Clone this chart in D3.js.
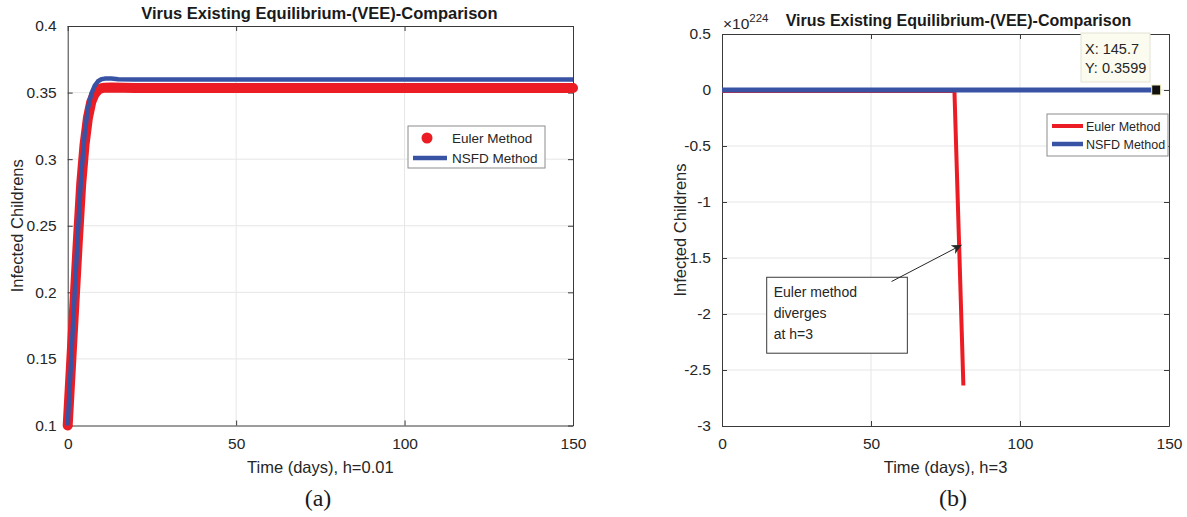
<!DOCTYPE html>
<html>
<head>
<meta charset="utf-8">
<script src="https://cdn.jsdelivr.net/npm/d3@7"></script>
<style>
  body { margin: 0; background: #fff; }
  svg { display: block; font-family: "Liberation Sans", Arial, Helvetica, sans-serif; }
</style>
</head>
<body>
<svg id="fig" width="1187" height="517"></svg>
<script>
// panel (a): h = 0.01
var eulerT = [0, 1, 2, 3, 4, 5, 6, 7, 8, 9, 10, 11, 13, 20, 150];
var eulerV = [0.1, 0.146, 0.192, 0.238, 0.281, 0.311, 0.331, 0.343, 0.349, 0.352, 0.3533, 0.3537, 0.3538, 0.3535, 0.3535];
var nsfdT = [0, 1, 2, 3, 4, 5, 6, 7, 8, 9, 10, 11, 12, 13, 15, 20, 150];
var nsfdV = [0.1, 0.148, 0.196, 0.243, 0.287, 0.318, 0.338, 0.349, 0.355, 0.3585, 0.36, 0.3605, 0.3606, 0.3605, 0.3601, 0.3599, 0.3599];

// panel (b): h = 3, values in units of 1e224
var euler3T = [0, 30, 60, 78, 81];
var euler3V = [0, 0, 0, 0, -2.63];
var nsfd3T = [0, 30, 60, 90, 120, 145.7];
var nsfd3V = [0, 0, 0, 0, 0, 0];
var tip = {x: 145.7, y: 0, label: ["X: 145.7", "Y: 0.3599"]};

var xTicks = [0, 50, 100, 150];
var yTicksA = [0.1, 0.15, 0.2, 0.25, 0.3, 0.35, 0.4];
var yTicksB = [0.5, 0, -0.5, -1, -1.5, -2, -2.5, -3];

var RED = "#ec1c24", BLUE = "#3953a4";
var title = "Virus Existing Equilibrium-(VEE)-Comparison";

var svg = d3.select("#fig");

function panel(o) {
  var x = d3.scaleLinear().domain([0, 150]).range([o.left, o.right]);
  var y = d3.scaleLinear().domain(o.ydom).range([o.bottom, o.top]);
  var g = svg.append("g");

  // grid
  g.selectAll("line.gx").data(xTicks.slice(1, -1)).enter().append("line")
    .attr("x1", x).attr("x2", x).attr("y1", o.top).attr("y2", o.bottom)
    .attr("stroke", "#e6e6e6");
  g.selectAll("line.gy").data(o.yticks.filter(function(d) { return d != o.ydom[0] && d != o.ydom[1]; }))
    .enter().append("line")
    .attr("x1", o.left).attr("x2", o.right).attr("y1", y).attr("y2", y)
    .attr("stroke", "#e6e6e6");

  // axes (box with inward ticks on all sides)
  var fmt = function(d) { return String(d); };
  g.append("g").attr("transform", "translate(0," + o.bottom + ")")
    .call(d3.axisBottom(x).tickValues(xTicks).tickSizeInner(-5).tickSizeOuter(0).tickPadding(12).tickFormat(fmt));
  g.append("g").attr("transform", "translate(0," + o.top + ")")
    .call(d3.axisTop(x).tickValues(xTicks).tickSizeInner(-5).tickSizeOuter(0).tickFormat(""));
  g.append("g").attr("transform", "translate(" + o.left + ",0)")
    .call(d3.axisLeft(y).tickValues(o.yticks).tickSizeInner(-5).tickSizeOuter(0).tickPadding(11).tickFormat(fmt));
  g.append("g").attr("transform", "translate(" + o.right + ",0)")
    .call(d3.axisRight(y).tickValues(o.yticks).tickSizeInner(-5).tickSizeOuter(0).tickFormat(""));
  g.selectAll(".domain, .tick line").attr("stroke", "#3a3a3a");
  g.selectAll(".tick text").attr("fill", "#262626").style("font-size", "15.5px")
    .style("font-family", "Liberation Sans, Arial, sans-serif");

  // title and labels
  g.append("text").attr("x", (o.left + o.right) / 2 + o.titleDx).attr("y", o.top - o.titleGap)
    .attr("text-anchor", "middle").attr("font-weight", "bold").attr("font-size", o.titleSize)
    .attr("fill", "#1a1a1a").text(title);
  g.append("text").attr("x", (o.left + o.right) / 2).attr("y", 473)
    .attr("text-anchor", "middle").attr("font-size", 16.5).attr("fill", "#262626").text(o.xlabel);
  g.append("text").attr("transform", "translate(" + o.ylabelX + "," + (o.top + o.bottom) / 2 + ") rotate(-90)")
    .attr("text-anchor", "middle").attr("font-size", 16.5).attr("fill", "#262626").text("Infected Childrens");
  g.append("text").attr("x", o.capX).attr("y", 506).attr("text-anchor", "middle")
    .attr("font-family", "Liberation Serif, Times New Roman, serif").attr("font-size", 24)
    .attr("fill", "#1a1a1a").text(o.caption);
  return {x: x, y: y, g: g};
}

// ---- panel (a)
var A = panel({left: 67.7, right: 573, top: 26, bottom: 425.5, ydom: [0.1, 0.4], yticks: yTicksA,
  xlabel: "Time (days), h=0.01", ylabelX: 23, caption: "(a)", capX: 318, titleDx: -1, titleGap: 7, titleSize: 16.5});

var lineA = d3.line().x(function(d) { return A.x(d[0]); }).y(function(d) { return A.y(d[1]); });
A.g.append("path").datum(d3.zip(eulerT, eulerV)).attr("d", lineA)
  .attr("fill", "none").attr("stroke", RED).attr("stroke-width", 10)
  .attr("stroke-linejoin", "round").attr("stroke-linecap", "round");
A.g.append("path").datum(d3.zip(nsfdT, nsfdV)).attr("d", lineA)
  .attr("fill", "none").attr("stroke", BLUE).attr("stroke-width", 4.5).attr("stroke-linejoin", "round");

// legend (a)
var la = A.g.append("g").attr("transform", "translate(408,126)");
la.append("rect").attr("width", 137).attr("height", 42).attr("fill", "#fff").attr("stroke", "#8c8c8c");
la.append("circle").attr("cx", 19).attr("cy", 12).attr("r", 5.5).attr("fill", RED);
la.append("line").attr("x1", 5).attr("x2", 39).attr("y1", 32).attr("y2", 32).attr("stroke", BLUE).attr("stroke-width", 4.5);
la.append("text").attr("x", 44).attr("y", 17).attr("font-size", 13.5).attr("fill", "#262626").text("Euler Method");
la.append("text").attr("x", 44).attr("y", 37).attr("font-size", 13.5).attr("fill", "#262626").text("NSFD Method");

// ---- panel (b)
var B = panel({left: 722, right: 1169, top: 34, bottom: 426, ydom: [-3, 0.5], yticks: yTicksB,
  xlabel: "Time (days), h=3", ylabelX: 686, caption: "(b)", capX: 953, titleDx: 13, titleGap: 8, titleSize: 16});

// exponent label
var ex = B.g.append("text").attr("x", 723).attr("y", 29).attr("font-size", 15.5).attr("fill", "#262626");
ex.append("tspan").text("\u00d710");
ex.append("tspan").attr("dy", -7).attr("font-size", 11.5).text("224");

var lineB = d3.line().x(function(d) { return B.x(d[0]); }).y(function(d) { return B.y(d[1]); });
B.g.append("path").datum(d3.zip(euler3T, euler3V)).attr("d", lineB)
  .attr("fill", "none").attr("stroke", RED).attr("stroke-width", 4).attr("transform", "translate(0,1)");
B.g.append("path").datum(d3.zip(nsfd3T, nsfd3V)).attr("d", lineB)
  .attr("fill", "none").attr("stroke", BLUE).attr("stroke-width", 5);

// data tip
B.g.append("rect").attr("x", B.x(tip.x) - 4.5).attr("y", B.y(tip.y) - 5).attr("width", 9).attr("height", 10)
  .attr("fill", "#111").attr("stroke", "#f3f0c0").attr("stroke-width", 1);
var tb = B.g.append("g").attr("transform", "translate(1081,33)");
tb.append("rect").attr("width", 69).attr("height", 49).attr("fill", "#fbfbef").attr("stroke", "#e4e4d4");
tb.selectAll("text").data(tip.label).enter().append("text")
  .attr("x", 4).attr("y", function(d, i) { return 21 + i * 19; })
  .attr("font-size", 14.5).attr("fill", "#262626").text(function(d) { return d; });

// legend (b)
var lb = B.g.append("g").attr("transform", "translate(1047,114)");
lb.append("rect").attr("width", 121).attr("height", 42).attr("fill", "#fff").attr("stroke", "#8c8c8c");
lb.append("line").attr("x1", 5).attr("x2", 36).attr("y1", 12).attr("y2", 12).attr("stroke", RED).attr("stroke-width", 4);
lb.append("line").attr("x1", 5).attr("x2", 36).attr("y1", 30).attr("y2", 30).attr("stroke", BLUE).attr("stroke-width", 4.5);
lb.append("text").attr("x", 39).attr("y", 17).attr("font-size", 12.5).attr("fill", "#262626").text("Euler Method");
lb.append("text").attr("x", 39).attr("y", 35).attr("font-size", 12.5).attr("fill", "#262626").text("NSFD Method");

// annotation
var note = ["Euler method", "diverges", "at h=3"];
var bx0 = B.x(15), bx1 = B.x(62.2), by0 = B.y(-1.672), by1 = B.y(-2.35);
B.g.append("rect").attr("x", bx0).attr("y", by0).attr("width", bx1 - bx0).attr("height", by1 - by0)
  .attr("fill", "#fff").attr("stroke", "#3a3a3a");
B.g.selectAll("text.note").data(note).enter().append("text")
  .attr("x", bx0 + 7).attr("y", function(d, i) { return by0 + 20 + i * 20.7; })
  .attr("font-size", 14).attr("fill", "#262626").text(function(d) { return d; });

svg.append("defs").append("marker").attr("id", "ah").attr("viewBox", "0 0 10 10")
  .attr("refX", 10).attr("refY", 5).attr("markerWidth", 10).attr("markerHeight", 10)
  .attr("markerUnits", "userSpaceOnUse").attr("orient", "auto")
  .append("path").attr("d", "M0,0 L10,5 L0,10 L3,5 Z").attr("fill", "#262626");
B.g.append("line").attr("x1", B.x(56.9)).attr("y1", B.y(-1.71)).attr("x2", B.x(80.4)).attr("y2", B.y(-1.384))
  .attr("stroke", "#262626").attr("stroke-width", 1).attr("marker-end", "url(#ah)");
</script>
</body>
</html>
